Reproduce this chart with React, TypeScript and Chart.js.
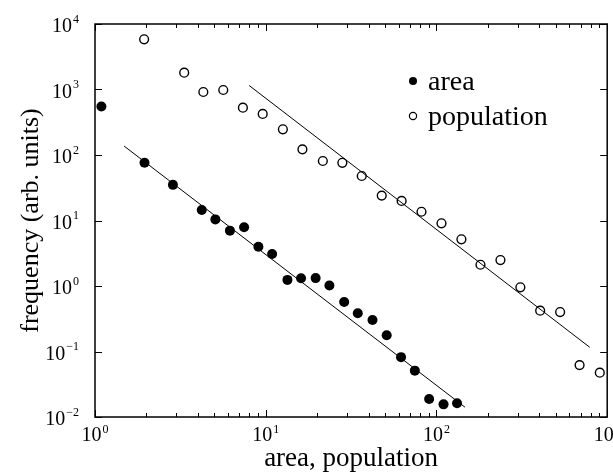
import React, { useEffect, useRef } from "react";
import { Chart, registerables } from "chart.js";

Chart.register(...registerables);

// ---- data ----
const areaX = [1.09, 1.95, 2.86, 4.22, 5.07, 6.17, 7.47, 9.06, 10.9, 13.4, 16.1, 19.6, 23.6, 28.8, 34.6, 42.2, 51.1, 62, 74.7, 90.6, 110, 132];
const areaY = [550, 76, 35, 14.5, 10.4, 7.0, 7.9, 3.98, 3.08, 1.24, 1.31, 1.32, 1.02, 0.57, 0.383, 0.303, 0.177, 0.082, 0.051, 0.0188, 0.0156, 0.0162];

const popX = [1.94, 3.33, 4.31, 5.64, 7.35, 9.6, 12.6, 16.4, 21.6, 28.1, 36.5, 47.8, 62.5, 81.7, 107, 140, 181, 237, 310, 405, 530, 689, 905];
const popY = [5840, 1806, 916, 982, 527, 423, 247, 122, 81, 76, 47.8, 24, 19.9, 13.6, 9.06, 5.16, 2.11, 2.49, 0.955, 0.42, 0.40, 0.062, 0.0475];

const areaFitX = [1.48, 147];
const areaFitY = [137, 0.0141];
const popFitX = [8.0, 790];
const popFitY = [1150, 0.116];

const seriesLabels = ["area", "population"];

const xTickValues = [1, 10, 100, 1000];
const xTickExponents = ["0", "1", "2", "3"];
const yTickValues = [0.01, 0.1, 1, 10, 100, 1000, 10000];
const yTickExponents = ["\u22122", "\u22121", "0", "1", "2", "3", "4"];

const xTitle = "area, population";
const yTitle = "frequency (arb. units)";

const FONT = '"Liberation Serif", "Times New Roman", serif';

const toPts = (xs: number[], ys: number[]) => xs.map((x, i) => ({ x, y: ys[i] }));

const framePlugin = {
  id: "framePlugin",
  afterDraw(chart: any) {
    const { ctx, chartArea, scales } = chart;
    const { left, right, top, bottom } = chartArea;
    const xs = scales.x;
    const ys = scales.y;
    ctx.save();
    ctx.strokeStyle = "#000";
    ctx.fillStyle = "#000";

    // frame
    ctx.lineWidth = 1.5;
    ctx.strokeRect(left, top, right - left, bottom - top);

    // x ticks (major + minor) on bottom & top, inward
    ctx.lineWidth = 1;
    ctx.beginPath();
    for (let i = 0; i < xTickValues.length; i++) {
      const px = Math.round(xs.getPixelForValue(xTickValues[i])) + 0.5;
      ctx.moveTo(px, bottom);
      ctx.lineTo(px, bottom - 7);
      ctx.moveTo(px, top);
      ctx.lineTo(px, top + 7);
      if (i < xTickValues.length - 1) {
        for (let m = 2; m <= 9; m++) {
          const mp = Math.round(xs.getPixelForValue(xTickValues[i] * m)) + 0.5;
          ctx.moveTo(mp, bottom);
          ctx.lineTo(mp, bottom - 4);
          ctx.moveTo(mp, top);
          ctx.lineTo(mp, top + 4);
        }
      }
    }
    // y ticks left & right
    for (let i = 0; i < yTickValues.length; i++) {
      const py = Math.round(ys.getPixelForValue(yTickValues[i])) + 0.5;
      ctx.moveTo(left, py);
      ctx.lineTo(left + 7, py);
      ctx.moveTo(right, py);
      ctx.lineTo(right - 7, py);
    }
    ctx.stroke();

    // tick labels
    const baseFont = `20px ${FONT}`;
    const supFont = `12px ${FONT}`;
    ctx.textBaseline = "alphabetic";
    ctx.textAlign = "left";
    for (let i = 0; i < xTickValues.length; i++) {
      const px = xs.getPixelForValue(xTickValues[i]);
      ctx.font = baseFont;
      const w10 = ctx.measureText("10").width;
      ctx.font = supFont;
      const we = ctx.measureText(xTickExponents[i]).width;
      const start = px - (w10 + we + 1) / 2;
      ctx.font = baseFont;
      ctx.fillText("10", start, bottom + 24);
      ctx.font = supFont;
      ctx.fillText(xTickExponents[i], start + w10 + 1, bottom + 16);
    }
    for (let i = 0; i < yTickValues.length; i++) {
      const py = ys.getPixelForValue(yTickValues[i]);
      ctx.font = baseFont;
      const w10 = ctx.measureText("10").width;
      ctx.font = supFont;
      const we = ctx.measureText(yTickExponents[i]).width;
      const end = left - 16;
      const start = end - (w10 + we + 1);
      ctx.font = baseFont;
      ctx.fillText("10", start, py + 8);
      ctx.font = supFont;
      ctx.fillText(yTickExponents[i], start + w10 + 1, py - 1.5);
    }

    // axis titles
    ctx.font = `27px ${FONT}`;
    ctx.textAlign = "center";
    ctx.fillText(xTitle, (left + right) / 2, 466);
    ctx.save();
    ctx.font = `26px ${FONT}`;
    ctx.translate(38, (top + bottom) / 2);
    ctx.rotate(-Math.PI / 2);
    ctx.fillText(yTitle, 0, 0);
    ctx.restore();

    // legend
    const lx = xs.getPixelForValue(1) + 318;
    const ly = top + 57;
    ctx.font = `28px ${FONT}`;
    ctx.textAlign = "left";
    ctx.lineWidth = 1.2;
    // filled
    ctx.beginPath();
    ctx.arc(lx, ly, 4, 0, Math.PI * 2);
    ctx.fill();
    ctx.fillText(seriesLabels[0], lx + 15, ly + 9);
    // open
    ctx.beginPath();
    ctx.arc(lx, ly + 35, 3.6, 0, Math.PI * 2);
    ctx.fillStyle = "#fff";
    ctx.fill();
    ctx.stroke();
    ctx.fillStyle = "#000";
    ctx.fillText(seriesLabels[1], lx + 15, ly + 44);

    ctx.restore();
  },
};

export default function App() {
  const ref = useRef<HTMLCanvasElement | null>(null);

  useEffect(() => {
    const canvas = ref.current;
    if (!canvas) return;
    const chart = new Chart(canvas, {
      type: "scatter",
      data: {
        datasets: [
          {
            label: "area fit",
            data: toPts(areaFitX, areaFitY),
            showLine: true,
            borderColor: "#000",
            borderWidth: 1,
            pointRadius: 0,
            fill: false,
          },
          {
            label: "population fit",
            data: toPts(popFitX, popFitY),
            showLine: true,
            borderColor: "#000",
            borderWidth: 1,
            pointRadius: 0,
            fill: false,
          },
          {
            label: seriesLabels[0],
            data: toPts(areaX, areaY),
            pointStyle: "circle",
            pointRadius: 5,
            backgroundColor: "#000",
            borderColor: "#000",
            borderWidth: 0,
          },
          {
            label: seriesLabels[1],
            data: toPts(popX, popY),
            pointStyle: "circle",
            pointRadius: 4.4,
            backgroundColor: "#fff",
            borderColor: "#000",
            borderWidth: 1.4,
          },
        ],
      },
      options: {
        responsive: false,
        animation: false,
        devicePixelRatio: 1,
        layout: { padding: { left: 95, right: 3, top: 24, bottom: 55 } },
        plugins: {
          legend: { display: false },
          tooltip: { enabled: false },
        },
        scales: {
          x: { type: "logarithmic", min: 1, max: 1000, display: false },
          y: { type: "logarithmic", min: 0.01, max: 10000, display: false },
        },
      },
      plugins: [framePlugin],
    });
    return () => chart.destroy();
  }, []);

  return (
    <div style={{ position: "fixed", left: 0, top: 0, width: 613, height: 472, background: "#fff" }}>
      <canvas ref={ref} width={613} height={472} style={{ display: "block" }} />
    </div>
  );
}
